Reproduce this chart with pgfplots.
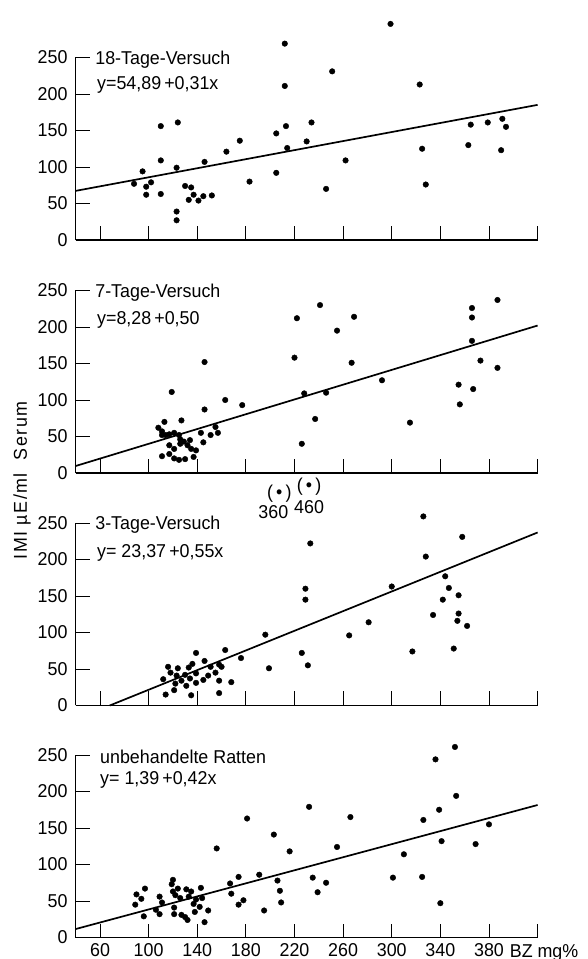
\documentclass[border=0pt]{standalone}
\usepackage{fontspec}
\setmainfont{Liberation Sans}[FakeStretch=0.96]
\usepackage{pgfplots}
\pgfplotsset{compat=1.18}
\newcommand\fs{\fontsize{18.6pt}{20pt}\selectfont}
\pgfplotsset{
  panel/.style={
    scale only axis, width=461.9pt, height=182.5pt,
    anchor=south west,
    xmin=40, xmax=420, ymin=0, ymax=250,
    axis x line=bottom, axis y line=left,
    axis line style={-, line width=1.5pt},
    xtick={60,100,...,420}, ytick={0,50,...,250},
    tick align=inside,
    major tick length=14pt,
    major tick style={black, line width=0.9pt},
    xticklabels={},
    tick label style={font=\fs},
    /pgf/number format/assume math mode=true,
    yticklabel style={anchor=east, inner sep=0pt, xshift=-8pt},
    clip=false,
  },
  dots/.style={only marks, mark=*, mark size=2.8pt, black},
  fit/.style={black, line width=1.7pt, no marks},
}
\begin{document}
\begin{tikzpicture}
\useasboundingbox (0,0) rectangle (587pt,959pt);

% 18 days
\begin{axis}[panel, at={(75.7pt,719pt)}]
\addplot[dots] coordinates {(88,77)(95,94)(98,73)(98,62)(102,79)(110,156)(110,109)(110,63)(123,99)(124,161)(123,39)(123,27)(130,74)(135,72)(133,55)(137,62)(141,54)(145,60)(146,107)(152,61)(164,121)(175,136)(183,80)(205,146)(205,92)(212,269)(212,211)(213,156)(214,126)(230,135)(234,161)(251,231)(246,70)(262,109)(299,296)(323,213)(325,125)(328,76)(363,130)(365,158)(379,161)(390,123)(391,166)(394,155)};
\addplot[fit] coordinates {(40,67.3)(420,185.1)};
\node[anchor=base west, inner sep=0pt, font=\fs] at (axis cs:56,241) {18-Tage-Versuch};
\node[anchor=base west, inner sep=0pt, font=\fs] at (axis cs:57.5,206) {y=54,89\,+0,31x};
\end{axis}

% 7 days
\begin{axis}[panel, at={(75.7pt,486pt)}]
\addplot[dots] coordinates {(119,111)(146,152)(146,87)(163,100)(177,93)(220,158)(222,212)(108,62)(113,70)(127,72)(111,57)(111,52)(114,52)(117,53)(121,55)(125,52)(117,38)(121,33)(117,26)(111,23)(121,20)(125,18)(130,19)(137,22)(126,46)(129,43)(134,45)(126,40)(132,38)(135,33)(139,31)(143,55)(145,42)(151,52)(155,63)(157,55)(226,40)(228,109)(237,74)(241,230)(246,110)(255,195)(267,151)(269,214)(292,127)(315,69)(355,121)(356,94)(366,226)(366,213)(366,181)(367,115)(373,154)(387,237)(387,144)};
\addplot[fit] coordinates {(40,9.6)(420,202)};
\node[anchor=base west, inner sep=0pt, font=\fs] at (axis cs:56,241) {7-Tage-Versuch};
\node[anchor=base west, inner sep=0pt, font=\fs] at (axis cs:57.5,203) {y=8,28\,+0,50};
\end{axis}

% 3 days
\begin{axis}[panel, at={(75.7pt,253.5pt)}]
\addplot[dots] coordinates {(114,15)(112,36)(116,53)(118,45)(121,21)(123,41)(124,51)(122,30)(127,34)(130,42)(131,27)(133,52)(134,37)(135,14)(136,57)(139,72)(139,44)(139,31)(145,35)(146,61)(149,41)(151,53)(155,45)(158,56)(160,53)(158,34)(158,17)(163,76)(168,32)(176,65)(196,97)(199,51)(233,222)(229,160)(229,145)(226,72)(231,55)(265,96)(281,114)(300,163)(317,74)(326,259)(328,204)(334,124)(342,145)(344,177)(347,161)(351,78)(355,151)(355,126)(354,116)(358,231)(362,109)};
\addplot[only marks, mark=text, text mark={\fs(\,•\,)}] coordinates {(207.5,290)(232,299.5)};
\addplot[fit] coordinates {(68,0)(420,237)};
\node[inner sep=0pt, font=\fs] at (axis cs:202.6,265) {360};
\node[inner sep=0pt, font=\fs] at (axis cs:232,272) {460};
\node[anchor=base west, inner sep=0pt, font=\fs] at (axis cs:56,241) {3-Tage-Versuch};
\node[anchor=base west, inner sep=0pt, font=\fs] at (axis cs:57.5,202.5) {y= 23,37\,+0,55x};
\end{axis}

% untreated
\begin{axis}[panel, at={(75.7pt,21.5pt)},
  xticklabels={60,100,140,180,220,260,300,340,380,},
  xticklabel style={anchor=north, inner sep=0pt, yshift=-5.5pt}]
\addplot[dots] coordinates {(89,45)(90,59)(94,53)(97,67)(96,29)(106,38)(109,56)(111,48)(109,32)(120,79)(119,73)(120,63)(124,67)(122,58)(126,54)(121,41)(121,32)(127,31)(130,28)(132,24)(131,66)(135,63)(133,56)(137,46)(138,35)(139,52)(142,42)(143,68)(144,54)(146,21)(149,37)(156,122)(167,74)(168,60)(174,83)(174,45)(178,51)(181,163)(191,86)(195,37)(203,141)(206,78)(208,64)(209,48)(216,118)(232,179)(235,82)(239,62)(246,75)(255,124)(266,165)(301,82)(310,114)(325,83)(326,161)(336,244)(339,175)(340,47)(341,132)(352,261)(353,194)(369,128)(380,155)};
\addplot[fit] coordinates {(40,11.6)(420,181.5)};
\node[anchor=base west, inner sep=0pt, font=\fs] at (axis cs:60,239) {unbehandelte Ratten};
\node[anchor=base west, inner sep=0pt, font=\fs] at (axis cs:60,209) {y= 1,39\,+0,42x};
\node[anchor=base west, inner sep=0pt, font=\fs] at (axis cs:397,0) [yshift=-19.5pt] {BZ mg\%};
\end{axis}

\node[rotate=90, inner sep=0pt, font=\fs\addfontfeatures{LetterSpace=8}] at (22pt,478.5pt) {IMI µE/ml~~Serum};
\end{tikzpicture}
\end{document}
